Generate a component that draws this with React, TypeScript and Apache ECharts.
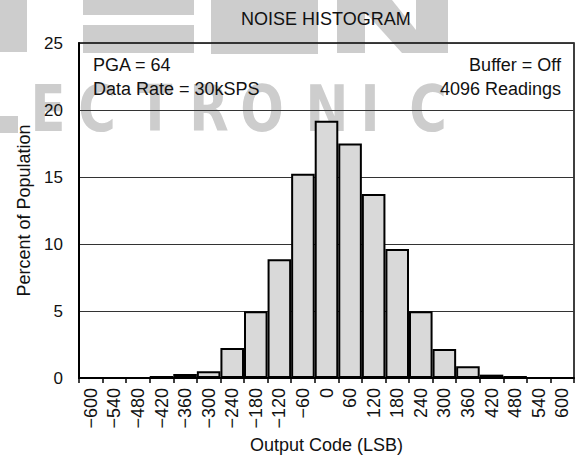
import React, { useEffect, useRef } from "react";
import * as echarts from "echarts";

const tickLabels = [
  "−600", "−540", "−480", "−420", "−360", "−300", "−240", "−180", "−120", "−60",
  "0", "60", "120", "180", "240", "300", "360", "420", "480", "540", "600",
];
const percentOfPopulation = [
  0, 0, 0, 0.15, 0.3, 0.5, 2.24, 4.98, 8.86, 15.25,
  19.2, 17.5, 13.73, 9.63, 4.98, 2.16, 0.87, 0.25, 0.15, 0, 0,
];
const yMin = 0;
const yMax = 25;
const yInterval = 5;
const titleText = "NOISE HISTOGRAM";
const notesLeft = ["PGA = 64", "Data Rate = 30kSPS"];
const notesRight = ["Buffer = Off", "4096 Readings"];
const watermarkLetters = ["E", "C", "T", "R", "O", "N", "I", "C"];
const watermarkCenters = [48, 97, 155, 209, 262, 327, 370, 428];

const FONT = "Liberation Sans";
const WM = "#cdcdcd";

export default function App() {
  const ref = useRef<HTMLDivElement>(null);
  useEffect(() => {
    if (!ref.current) return;
    const chart = echarts.init(ref.current, null, { renderer: "svg" });
    const wmElements: any[] = [
      { type: "rect", z: -10, shape: { x: 0, y: 0, width: 27, height: 52 }, style: { fill: WM } },
      { type: "rect", z: -10, shape: { x: 83, y: 0, width: 111, height: 15 }, style: { fill: WM } },
      { type: "rect", z: -10, shape: { x: 83, y: 25, width: 111, height: 28 }, style: { fill: WM } },
      { type: "rect", z: -10, shape: { x: 211, y: 0, width: 107, height: 54 }, style: { fill: WM } },
      { type: "rect", z: -10, shape: { x: 337, y: 0, width: 28, height: 53 }, style: { fill: WM } },
      { type: "polygon", z: -10, shape: { points: [[365, 0], [392, 0], [416, 30], [416, 53], [402, 53], [365, 12]] }, style: { fill: WM } },
      { type: "rect", z: -10, shape: { x: 416, y: 0, width: 32, height: 53 }, style: { fill: WM } },
      { type: "rect", z: -10, shape: { x: 0, y: 116, width: 18, height: 17 }, style: { fill: WM } },
    ];
    watermarkLetters.forEach((ch, i) => {
      wmElements.push({
        type: "text",
        z: -10,
        x: watermarkCenters[i],
        y: 109,
        scaleX: 0.8,
        style: {
          text: ch,
          fill: WM,
          fontFamily: "DejaVu Sans",
          fontWeight: "bold",
          fontSize: 64,
          textAlign: "center",
          textVerticalAlign: "middle",
        },
      });
    });
    const noteEls: any[] = [];
    notesLeft.forEach((t, i) => {
      noteEls.push({
        type: "text",
        z: 100,
        x: 93,
        y: 64.5 + i * 24,
        style: { text: t, fill: "#111", fontFamily: FONT, fontSize: 18, textAlign: "left", textVerticalAlign: "middle" },
      });
    });
    notesRight.forEach((t, i) => {
      noteEls.push({
        type: "text",
        z: 100,
        x: 561,
        y: 64.5 + i * 24,
        style: { text: t, fill: "#111", fontFamily: FONT, fontSize: 18, textAlign: "right", textVerticalAlign: "middle" },
      });
    });

    chart.setOption({
      animation: false,
      textStyle: { fontFamily: FONT },
      title: {
        text: titleText,
        left: 241,
        top: 10,
        padding: 0,
        textStyle: { fontFamily: FONT, fontSize: 18, fontWeight: "normal", color: "#111" },
      },
      grid: {
        left: 79,
        right: 2,
        top: 43,
        bottom: 82,
        show: true,
        borderColor: "#000",
        borderWidth: 1.5,
        backgroundColor: "transparent",
      },
      xAxis: {
        type: "category",
        data: tickLabels,
        boundaryGap: true,
        name: "Output Code (LSB)",
        nameLocation: "middle",
        nameGap: 56,
        nameTextStyle: { fontFamily: FONT, fontSize: 18, color: "#111" },
        axisLine: { show: true, lineStyle: { color: "#000", width: 2 } },
        axisTick: { show: true, length: 5, alignWithLabel: false, interval: 0, lineStyle: { color: "#000", width: 1.5 } },
        axisLabel: { rotate: 90, interval: 0, fontSize: 18, margin: 10, color: "#111", fontFamily: FONT },
        splitLine: { show: false },
      },
      yAxis: {
        type: "value",
        min: yMin,
        max: yMax,
        interval: yInterval,
        name: "Percent of Population",
        nameLocation: "middle",
        nameGap: 46,
        nameTextStyle: { fontFamily: FONT, fontSize: 18, color: "#111" },
        axisLine: { show: true, lineStyle: { color: "#000", width: 2 } },
        axisTick: { show: false },
        axisLabel: { fontSize: 17, margin: 16, color: "#111", fontFamily: FONT },
        splitLine: { show: true, lineStyle: { color: "#333", width: 1 } },
      },
      series: [
        {
          type: "bar",
          data: percentOfPopulation,
          barCategoryGap: "0%",
          itemStyle: { color: "#d9d9d9", borderColor: "#000", borderWidth: 2 },
        },
      ],
      graphic: [...wmElements, ...noteEls],
    });
    return () => chart.dispose();
  }, []);
  return <div ref={ref} style={{ width: 576, height: 460, position: "absolute", left: 0, top: 0 }} />;
}
